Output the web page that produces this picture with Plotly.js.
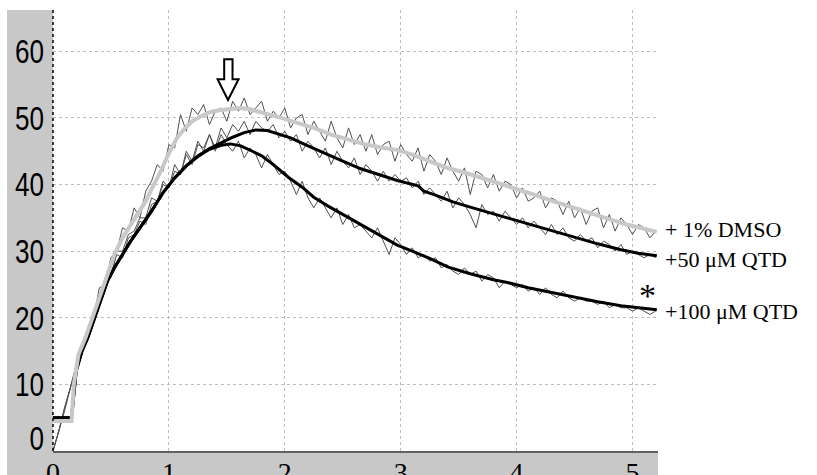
<!DOCTYPE html>
<html>
<head>
<meta charset="utf-8">
<script src="https://cdn.plot.ly/plotly-3.0.1.min.js"></script>
<style>html,body{margin:0;padding:0;background:#fff;}#chart{width:817px;height:475px;}</style>
</head>
<body>
<div id="chart"></div>
<script>
// Time grid for the raw (noisy) recordings
const tRaw = [0,0.05,0.1,0.15,0.2,0.25,0.3,0.35,0.4,0.45,0.5,0.55,0.6,0.65,0.7,0.75,0.8,0.85,0.9,0.95,
  1,1.05,1.1,1.15,1.2,1.25,1.3,1.35,1.4,1.45,1.5,1.55,1.6,1.65,1.7,1.75,1.8,1.85,1.9,1.95,
  2,2.05,2.1,2.15,2.2,2.25,2.3,2.35,2.4,2.45,2.5,2.55,2.6,2.65,2.7,2.75,2.8,2.85,2.9,2.95,
  3,3.05,3.1,3.15,3.2,3.25,3.3,3.35,3.4,3.45,3.5,3.55,3.6,3.65,3.7,3.75,3.8,3.85,3.9,3.95,
  4,4.05,4.1,4.15,4.2,4.25,4.3,4.35,4.4,4.45,4.5,4.55,4.6,4.65,4.7,4.75,4.8,4.85,4.9,4.95,
  5,5.05,5.1,5.15,5.2];
const rawDMSO = [0,3,6.5,9.5,13,15.5,18.5,20,24.5,25,
  29,30,33.5,33,36.5,35,39,40.5,43,42,
  46,45.5,50.5,48,51.5,50.5,52,49,51,51.5,
  49.5,52.5,51,53,50.5,51.5,52.5,49.5,51,50,
  51.5,48.5,50,50.5,47.5,49.5,48,46.5,49.5,47,
  45.5,48.5,46,47.5,45,47.5,44.5,46,46.5,43.5,
  46,44.5,43.5,45.5,42,44.5,43.5,41.5,44,42,
  40.5,42.5,38.5,42,41.5,39.5,41.5,39,40.5,40,
  38,39.5,37.5,38,39,36.5,38,37.5,35.5,37.5,
  35,36.5,34,36,36.5,33.5,35.5,33,35,34,
  32.5,34,33.5,32,33];
const raw50 = [0,3,6,9.5,12.5,15,17.5,20.5,22,25.5,
  26.5,29.5,29,32,32.5,34.5,34,37,37.5,40,
  39.5,42,41.5,44.5,43,46,45.5,47.5,45.5,48.5,
  47,49,48,49.5,47.5,49.5,48.5,48,49,47,
  48,46.5,47.5,45,46.5,45.5,44,45.5,43,45,
  43.5,42.5,44,41.5,43,42,40.5,42,40.5,41.5,
  40.5,41,39.5,40.5,38.5,39.5,38.5,37.5,39,36.5,
  38,37,35.5,33.5,37,35.5,36,34.5,36,35,
  34,35,33.5,34.5,33.5,32.5,34,32.5,33.5,32,
  31.5,32.5,31.5,32,30.5,31.5,31,30,31,29.5,
  30,29.5,29,29.5,29];
const raw100 = [0,3,6.5,9.5,12.5,15.5,17,21,22.5,26,
  26,30,30,32.5,33,35,35,38,37.5,40.5,
  39.5,43,41.5,45,43.5,46.5,45,47.5,45,47.5,
  46,45,46.5,44,45.5,44.5,42.5,44.5,43,41.5,
  42,40.5,38.5,40.5,38,36.5,38,36.5,35,36.5,
  34,35.5,33.5,34,33,32,33.5,31.5,29.5,32,
  31,29.5,30.5,29,29.5,28.5,29,27.5,28,27,
  26.5,27.5,26.5,27,25.5,26.5,26,24.5,25.5,25,
  24.5,25,24,24.5,23.5,24.5,23.5,23,24,23,
  22.5,23,22.5,22.5,22,22.5,21.5,22,21.5,21.5,
  21,21.5,21,20.5,21];

// Smoothed traces
const xDMSO = [0,0.16,0.18,0.22,0.28,0.34,0.41,0.47,0.53,0.6,0.67,0.73,0.8,0.87,0.93,1.0,1.07,1.13,1.2,1.28,
  1.36,1.45,1.55,1.62,1.7,1.77,1.85,1.97,2.1,2.25,2.4,2.55,2.7,2.85,2.97,3.1,3.25,3.4,3.55,3.7,
  3.85,4.0,4.15,4.3,4.49,4.65,4.8,4.95,5.1,5.21];
const yDMSO = [4.5,4.5,10,14.5,17,20,23.5,26.5,29.5,32,34,35.5,37.5,40,42,44.7,47,48.3,49.5,50.3,
  50.9,51.2,51.4,51.5,51.3,51,50.6,50,49.3,48.5,47.5,46.7,46,45.5,45.2,44.5,43.5,42.5,41.8,41,
  40.2,39.3,38.5,37.6,36.5,35.6,34.8,34,33.4,32.9];
const x50 = [0,0.16,0.2,0.25,0.3,0.36,0.41,0.47,0.53,0.6,0.67,0.75,0.85,0.95,1.05,1.15,1.25,1.35,1.45,1.55,
  1.65,1.75,1.85,1.95,2.05,2.2,2.35,2.5,2.65,2.8,2.97,3.15,3.2,3.3,3.45,3.6,3.75,3.92,4.1,4.3,
  4.49,4.7,4.9,5.05,5.21];
const y50 = [5,5,12,15,17,20,22.5,25.5,27.5,29.5,31.5,33.5,36,38.8,41,42.8,44.3,45.4,46.3,47.1,
  47.8,48.2,48.1,47.6,47,45.8,44.6,43.5,42.4,41.5,40.6,39.8,39,38.4,37.4,36.6,35.8,35,34.1,33.1,
  32.1,31.1,30.2,29.7,29.3];
const x100 = [0,0.16,0.2,0.25,0.3,0.36,0.41,0.47,0.53,0.6,0.67,0.75,0.85,0.95,1.05,1.15,1.25,1.35,1.45,1.53,
  1.62,1.72,1.8,1.9,2.03,2.15,2.25,2.37,2.48,2.6,2.74,2.85,2.97,3.1,3.25,3.41,3.6,3.8,3.92,4.1,
  4.3,4.49,4.7,4.9,5.05,5.21];
const y100 = [5,5,12,15,17,20,22.5,25.5,27.5,29.5,31.5,33.5,36,38.8,41,42.8,44.2,45.3,45.9,46.1,
  45.8,45,44.3,43,41.1,39.6,38.1,36.8,35.7,34.5,33.2,32,30.9,30,28.9,27.6,26.6,25.7,25.3,24.5,
  23.8,23.1,22.4,21.8,21.5,21.2];

const labels = ["+ 1% DMSO", "+50 \u03bcM QTD", "+100 \u03bcM QTD"];
const labelY = [33.2, 28.7, 20.9];
const xTicks = [0,1,2,3,4,5];
const yTicks = [0,10,20,30,40,50,60];

const rawLine = {color: '#505050', width: 1};
const traces = [
  {x: tRaw, y: rawDMSO, mode: 'lines', line: rawLine, hoverinfo: 'skip'},
  {x: tRaw, y: raw50, mode: 'lines', line: rawLine, hoverinfo: 'skip'},
  {x: tRaw, y: raw100, mode: 'lines', line: rawLine, hoverinfo: 'skip'},
  {x: x100, y: y100, mode: 'lines', line: {color: '#000', width: 3}},
  {x: x50, y: y50, mode: 'lines', line: {color: '#000', width: 3}},
  {x: xDMSO, y: yDMSO, mode: 'lines', line: {color: '#c8c8c8', width: 4}}
];

const serif = 'Liberation Serif, Times New Roman, serif';
const annotations = labels.map((t, i) => ({
  xref: 'paper', yref: 'y', x: 1.008, y: labelY[i], xanchor: 'left', yanchor: 'middle',
  text: t, showarrow: false, font: {family: serif, size: 22, color: '#000'}
}));
annotations.push({xref: 'x', yref: 'y', x: 5.13, y: 23.3, text: '*', showarrow: false,
  font: {family: serif, size: 34, color: '#000'}, xanchor: 'center', yanchor: 'middle'});

const layout = {
  width: 817, height: 475,
  margin: {l: 53, r: 159, t: 10, b: 24},
  paper_bgcolor: '#fff', plot_bgcolor: '#fff',
  showlegend: false,
  xaxis: {range: [0, 5.22], tickvals: xTicks, ticktext: xTicks.map(String), showgrid: true,
    gridcolor: '#bdbdbd', griddash: '3px,3px', gridwidth: 1, zeroline: false,
    showline: true, linecolor: '#606060', linewidth: 2, ticks: '', ticklabelstandoff: -5,
    tickfont: {family: serif, size: 28, color: '#000'}, fixedrange: true},
  yaxis: {range: [0, 66.2], tickvals: yTicks, ticktext: yTicks.map(String), showgrid: true,
    gridcolor: '#bdbdbd', griddash: '3px,3px', gridwidth: 1, zeroline: false,
    showline: false, ticks: '', ticklabelstandoff: 8,
    tickfont: {family: 'Liberation Sans, Arial, sans-serif', size: 34, color: '#000'},
    fixedrange: true},
  shapes: [
    {type: 'rect', xref: 'paper', yref: 'paper', x0: -0.076, x1: 0, y0: -0.0544, y1: 1,
      fillcolor: '#c8c8c8', line: {width: 0}, layer: 'below'},
    {type: 'rect', xref: 'paper', yref: 'paper', x0: -0.076, x1: 1, y0: -0.0544, y1: 0,
      fillcolor: '#c8c8c8', line: {width: 0}, layer: 'below'},
    {type: 'line', xref: 'paper', yref: 'paper', x0: 0, x1: 0, y0: 0, y1: 1,
      line: {color: '#000', width: 1.5, dash: 'dot'}},
    {type: 'path', xref: 'x', yref: 'y',
      path: 'M 1.477 58.8 L 1.549 58.8 L 1.549 55.8 L 1.601 55.8 L 1.51 52.7 L 1.42 55.8 L 1.477 55.8 Z',
      fillcolor: '#fff', line: {color: '#000', width: 2}}
  ],
  annotations: annotations
};

Plotly.newPlot('chart', traces, layout, {displayModeBar: false, staticPlot: true}).then(function () {
  // narrow (condensed) look of the y tick numbers; the "0" sits a little higher as in the original
  document.querySelectorAll('.ytick text').forEach(function (el) {
    const s = (el.textContent || '');
    el.setAttribute('textLength', String(14.5 * s.length));
    el.setAttribute('lengthAdjust', 'spacingAndGlyphs');
    if (s === '0') {
      const y = parseFloat(el.getAttribute('y') || '0');
      el.setAttribute('y', String(y - 13));
    }
  });
});
</script>
</body>
</html>
